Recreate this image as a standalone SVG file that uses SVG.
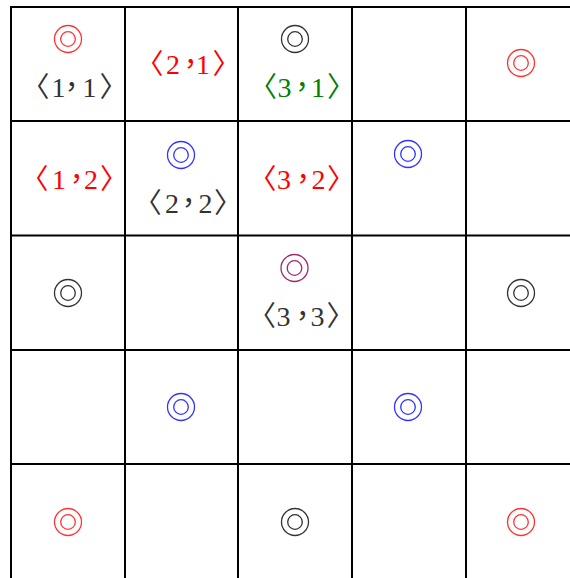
<svg xmlns="http://www.w3.org/2000/svg" width="570" height="578" viewBox="0 0 570 578">
<style>
.grid line{stroke:#000;stroke-width:2}
.ring{fill:none;stroke-width:1.3}
.lbl{font-family:"Liberation Serif","Noto Sans CJK TC",serif;font-size:28px;text-anchor:middle}
.gray{fill:#333}
.red{fill:#ff0000}
.green{fill:#008000}
</style>
<defs>
<g id="ring"><circle class="ring" r="13.5"/><circle class="ring" r="7.3"/></g>
</defs>
<rect width="570" height="578" fill="#fff"/>
<g id="grid" class="grid">
<line x1="11" y1="7" x2="570" y2="7"/>
<line x1="11" y1="121" x2="570" y2="121"/>
<line x1="11" y1="235.5" x2="570" y2="235.5"/>
<line x1="11" y1="350" x2="570" y2="350"/>
<line x1="11" y1="464" x2="570" y2="464"/>
<line x1="11" y1="6" x2="11" y2="578"/>
<line x1="125" y1="6" x2="125" y2="578"/>
<line x1="238" y1="6" x2="238" y2="578"/>
<line x1="352" y1="6" x2="352" y2="578"/>
<line x1="466" y1="6" x2="466" y2="578"/>
</g>
<g id="c11"><use href="#ring" x="68" y="39" stroke="#ff3333"/>
<text class="lbl gray" x="35.5 58.5 71.5 89.5 113.5" y="97">〈1，1〉</text></g>
<g id="c21"><text class="lbl red" x="149.5 173 190.5 203 226.5" y="74">〈2，1〉</text></g>
<g id="c31"><use href="#ring" x="295" y="39" stroke="#333"/>
<text class="lbl green" x="263 284.5 302 318 341" y="97">〈3，1〉</text></g>
<g id="c51"><use href="#ring" x="521" y="63" stroke="#ff3333"/></g>
<g id="c12"><text class="lbl red" x="34.5 59 76.5 91 114" y="188.5">〈1，2〉</text></g>
<g id="c22"><use href="#ring" x="181" y="155" stroke="#3333ff"/>
<text class="lbl gray" x="147.7 172 188.5 205.5 228" y="213">〈2，2〉</text></g>
<g id="c32"><text class="lbl red" x="262.5 284 303 318.5 341" y="188.5">〈3，2〉</text></g>
<g id="c42"><use href="#ring" x="408" y="154" stroke="#3333ff"/></g>
<g id="c13"><use href="#ring" x="68" y="293" stroke="#333"/></g>
<g id="c33"><use href="#ring" x="294.5" y="268" stroke="#a0286a" stroke-width="2"/>
<text class="lbl gray" x="262 283.5 302.5 317.5 340.5" y="326">〈3，3〉</text></g>
<g id="c53"><use href="#ring" x="521" y="293" stroke="#333"/></g>
<g id="c24"><use href="#ring" x="181" y="407" stroke="#3333ff"/></g>
<g id="c44"><use href="#ring" x="408" y="407" stroke="#3333ff"/></g>
<g id="c15"><use href="#ring" x="68" y="522" stroke="#ff3333"/></g>
<g id="c35"><use href="#ring" x="295" y="522" stroke="#333"/></g>
<g id="c55"><use href="#ring" x="521" y="522" stroke="#ff3333"/></g>
</svg>
